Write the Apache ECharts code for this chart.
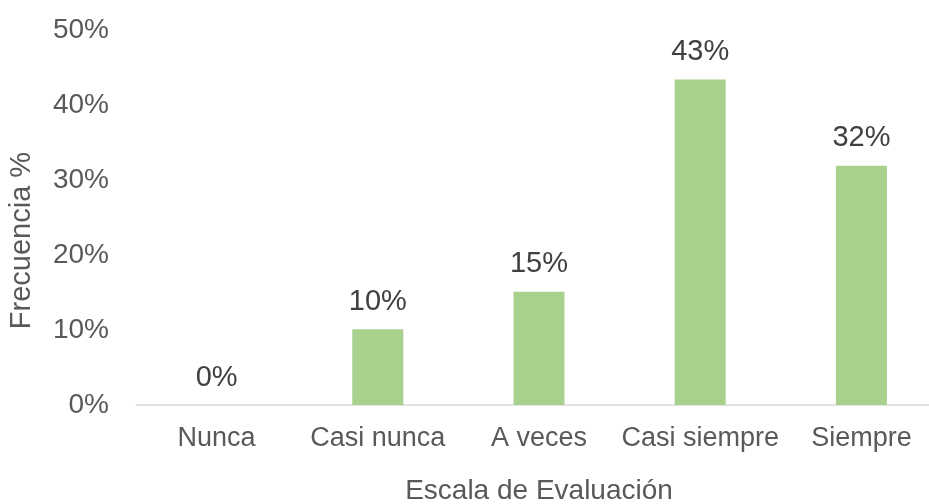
<!DOCTYPE html>
<html>
<head>
<meta charset="utf-8">
<script src="https://cdn.jsdelivr.net/npm/echarts@6/dist/echarts.min.js"></script>
<style>html,body{margin:0;padding:0;background:#fff}#c{width:929px;height:504px}</style>
</head>
<body>
<div id="c"></div>
<script>
const categories = ['Nunca', 'Casi nunca', 'A veces', 'Casi siempre', 'Siempre'];
const values = [0, 10.1, 15.1, 43.4, 31.9];
const yTicks = { min: 0, max: 50, interval: 10 };
const xTitle = 'Escala de Evaluación';
const yTitle = 'Frecuencia %';

const FONT = '"Liberation Sans", Arial, sans-serif';
const chart = echarts.init(document.getElementById('c'));
chart.setOption({
  animation: false,
  grid: { left: 136, width: 806, top: 30, bottom: 99, containLabel: false, outerBoundsMode: 'none' },
  xAxis: {
    type: 'category',
    data: categories,
    name: xTitle,
    nameLocation: 'middle',
    nameGap: 72,
    nameTextStyle: { fontSize: 28, color: '#595959', fontFamily: FONT },
    axisLine: { lineStyle: { color: '#d9d9d9', width: 1.5 } },
    axisTick: { show: false },
    axisLabel: { fontSize: 27, color: '#595959', fontFamily: FONT, margin: 20, interval: 0 }
  },
  yAxis: {
    type: 'value',
    min: yTicks.min, max: yTicks.max, interval: yTicks.interval,
    name: yTitle,
    nameLocation: 'middle',
    nameGap: 100,
    nameTextStyle: { fontSize: 29, color: '#595959', fontFamily: FONT, padding: [0, 46, 0, 0] },
    axisLine: { show: false },
    axisTick: { show: false },
    splitLine: { show: false },
    axisLabel: { formatter: '{value}%', fontSize: 28, color: '#595959', fontFamily: FONT, margin: 27 }
  },
  series: [{
    type: 'bar',
    data: values,
    barWidth: 51,
    itemStyle: { color: '#A9D18E' },
    label: {
      show: true,
      position: 'top',
      distance: 13,
      fontSize: 29,
      color: '#404040',
      fontFamily: FONT,
      formatter: p => Math.round(p.value) + '%'
    }
  }]
});
</script>
</body>
</html>
